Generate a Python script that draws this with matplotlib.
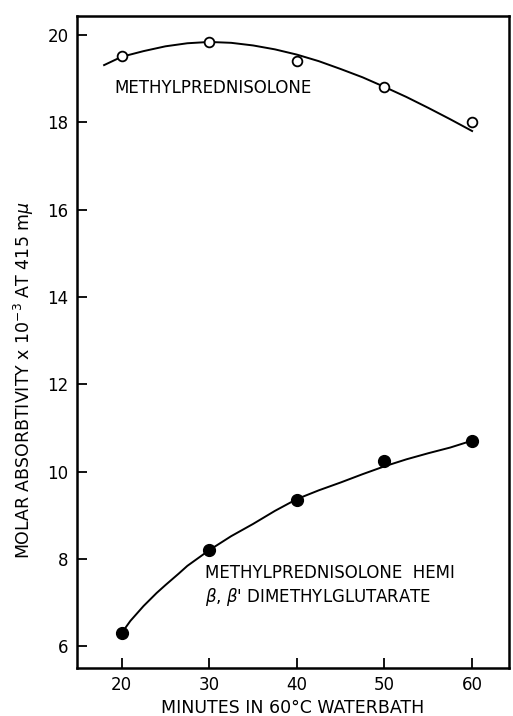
import numpy as np
import matplotlib
matplotlib.use("Agg")
import matplotlib.pyplot as plt

# Measured points (minutes in 60 C waterbath vs molar absorbtivity x 10^-3)
minutes = [20, 30, 40, 50, 60]
methylpred = [19.52, 19.84, 19.40, 18.81, 18.00]
hemi_ester = [6.30, 8.20, 9.35, 10.25, 10.70]

# Hand-drawn trend curves
curve_top_x = [18, 20, 22.5, 25, 27.5, 30, 32.5, 35, 37.5, 40, 42.5, 45, 47.5, 50, 52.5, 55, 57.5, 60]
curve_top_y = [19.31, 19.50, 19.63, 19.74, 19.81, 19.84, 19.82, 19.76, 19.67, 19.55, 19.40, 19.22,
               19.03, 18.81, 18.58, 18.33, 18.07, 17.80]
curve_bot_x = [20, 21, 22.5, 24, 25, 26.5, 27.5, 30, 32.5, 35, 37.5, 40, 42.5, 45, 47.5, 50, 52.5, 55, 57.5, 60.5]
curve_bot_y = [6.30, 6.58, 6.92, 7.22, 7.40, 7.66, 7.84, 8.20, 8.52, 8.80, 9.10, 9.37, 9.57, 9.75,
               9.94, 10.12, 10.28, 10.42, 10.55, 10.74]

x_ticks = [20, 30, 40, 50, 60]
y_ticks = [6, 8, 10, 12, 14, 16, 18, 20]

fig = plt.figure(figsize=(5.13, 7.16), dpi=100)
ax = fig.add_axes([0.150, 0.067, 0.842, 0.911])

ax.plot(curve_top_x, curve_top_y, color="black", lw=1.4)
ax.plot(curve_bot_x, curve_bot_y, color="black", lw=1.4)
ax.plot(minutes, methylpred, "o", mfc="white", mec="black", mew=1.3, ms=7)
ax.plot(minutes, hemi_ester, "o", color="black", ms=8.5)

ax.set_xlim(14.9, 64.2)
ax.set_ylim(5.5, 20.44)
ax.set_xticks(x_ticks)
ax.set_yticks(y_ticks)
ax.tick_params(direction="in", length=7, width=1.3, labelsize=12, pad=6)
for s in ax.spines.values():
    s.set_linewidth(1.8)

ax.text(19.2, 18.79, "METHYLPREDNISOLONE", fontsize=12, va="center", ha="left")
ax.text(29.5, 7.67, "METHYLPREDNISOLONE  HEMI", fontsize=12, va="center", ha="left")
ax.text(29.5, 7.12, r"$\beta$, $\beta$' DIMETHYLGLUTARATE", fontsize=12, va="center", ha="left")

ax.set_xlabel("MINUTES IN 60°C WATERBATH", fontsize=12.5, labelpad=3)
ax.set_ylabel(r"MOLAR ABSORBTIVITY x 10$^{-3}$ AT 415 m$\mu$", fontsize=12.5)
ax.yaxis.set_label_coords(-0.095, 0.442)

fig.savefig("out.png", dpi=100)
